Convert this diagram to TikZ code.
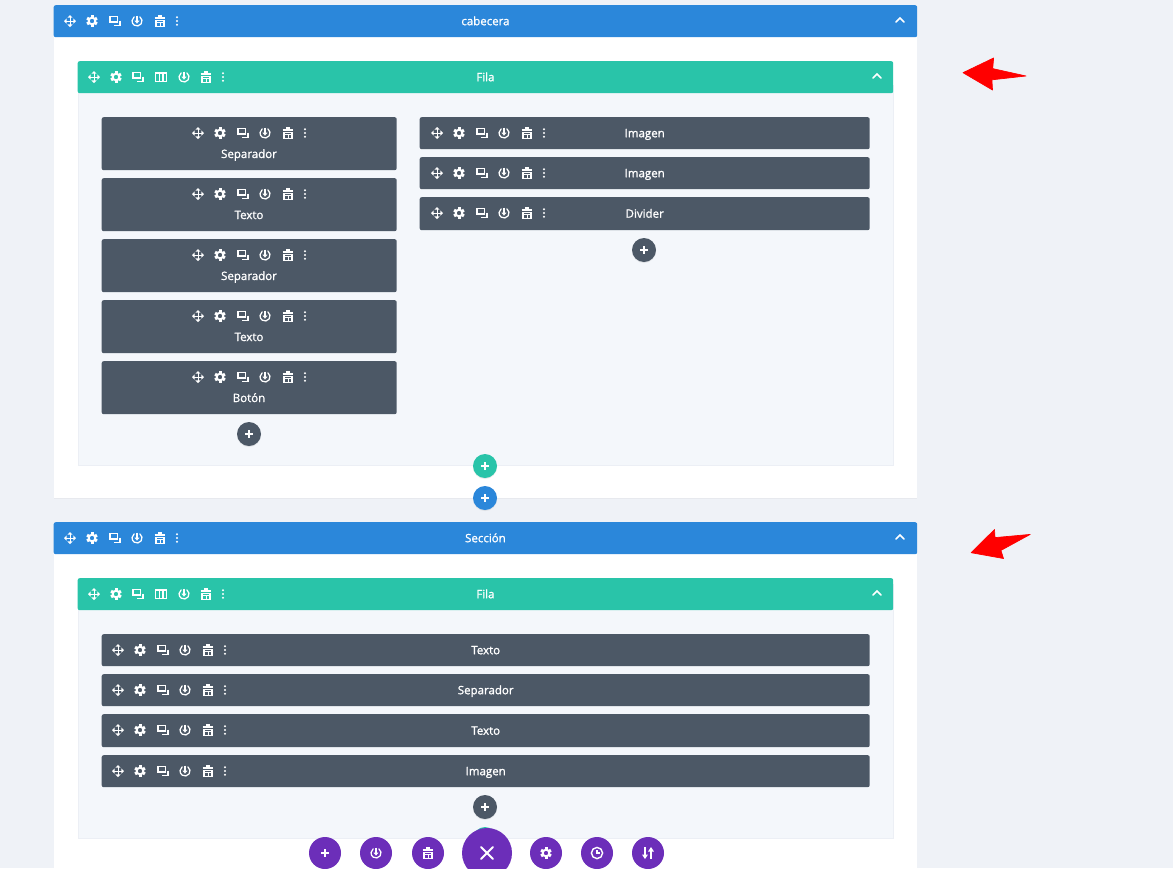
\documentclass[tikz,border=0pt]{standalone}
\usepackage{fontspec}
\usetikzlibrary{shadows}
\newfontfamily\labelfont[FakeBold=1.2]{Open Sans}
\definecolor{pagebg}{HTML}{EFF2F7}
\definecolor{rowbg}{HTML}{F4F7FB}
\definecolor{secblue}{HTML}{2B87DA}
\definecolor{rowgreen}{HTML}{29C4A9}
\definecolor{moddark}{HTML}{4C5866}
\definecolor{btnpurple}{HTML}{6C2EB9}
\definecolor{edgegray}{HTML}{ECEFF5}
\tikzset{
  bar/.style={shape=rectangle, anchor=north west, inner sep=0pt, rounded corners=2pt, text=white,
    text height=9.5pt, text depth=1.5pt, font=\labelfont\fontsize{11.5}{13}\selectfont},
  secbar/.style={bar, fill=secblue, minimum width=863.5pt, minimum height=32pt},
  rowbar/.style={bar, fill=rowgreen, minimum width=815.5pt, minimum height=32pt},
  modbar/.style={bar, fill=moddark, minimum height=32pt},
  tallbar/.style={modbar, minimum width=295pt, minimum height=53pt},
  panel/.style={shape=rectangle, anchor=north west, inner sep=0pt, fill=white,
    drop shadow={shadow xshift=0pt, shadow yshift=-1pt, opacity=.07}},
  rowbody/.style={shape=rectangle, anchor=north west, inner sep=0pt, fill=rowbg, draw=edgegray, line width=.5pt},
  modlabel/.style={text=white, inner sep=0pt, text height=9.5pt, text depth=1.5pt, font=\labelfont\fontsize{11.5}{13}\selectfont},
  addbtn/.style={shape=circle, inner sep=0pt, minimum size=24pt,
    drop shadow={shadow xshift=0pt, shadow yshift=-1pt, opacity=.15}},
  toolbtn/.style={shape=circle, inner sep=0pt, minimum size=32pt, fill=btnpurple},
  icon/.style={white, line width=1.25pt, line cap=round},
  arrowmark/.style={fill=red, draw=red, line width=.7pt, line join=round},
  iconmove/.pic={
    \draw[icon, line width=1pt] (-4.5,0) -- (4.5,0) (0,-4.5) -- (0,4.5);
    \fill[white] (-6,0) -- (-3.4,-2.6) -- (-3.4,2.6) -- cycle (6,0) -- (3.4,-2.6) -- (3.4,2.6) -- cycle
      (0,-6) -- (-2.6,-3.4) -- (2.6,-3.4) -- cycle (0,6) -- (-2.6,3.4) -- (2.6,3.4) -- cycle;},
  icongear/.pic={
    \foreach \a in {0,60,...,300} \fill[white, rotate=\a] (-1.5,-5.7) rectangle (1.5,-3.4);
    \draw[white, line width=1.9pt] (0,0) circle (3.3pt);},
  iconcopy/.pic={
    \draw[icon, line width=1.5pt, line cap=butt] (-5,-4.5) rectangle (2.5,.8);
    \draw[icon, line width=1.5pt, line cap=butt] (5.2,-.5) -- (5.2,4.3) -- (-1,4.3);},
  iconpower/.pic={
    \draw[icon] (2.9,-4.1) arc[start angle=55, end angle=-235, radius=5pt];
    \draw[icon, line width=1.4pt, line cap=butt] (0,-5.4) -- (0,1);
    \fill[white] (-2.6,-.4) -- (2.6,-.4) -- (0,2.6) -- cycle;},
  icontrash/.pic={
    \draw[icon, line width=1.2pt, line cap=butt] (-5.4,-3) -- (5.4,-3) (-2,-5) -- (2,-5);
    \draw[icon, line width=1.1pt, line cap=butt] (-4,-.8) rectangle (4,5.2);
    \draw[icon, line width=.9pt, line cap=butt] (-4,1.8) -- (4,1.8) (0,1.8) -- (0,5.2);},
  icondots/.pic={
    \foreach \d in {-3.7,0,3.7} \fill[white] (0,\d) circle (1.15pt);},
  iconcols/.pic={
    \draw[icon, line width=1.4pt, line cap=butt] (-5.4,-4.2) rectangle (5.4,4.2);
    \draw[icon, line width=1.4pt, line cap=butt] (-1.8,-4.2) -- (-1.8,4.2) (1.8,-4.2) -- (1.8,4.2);},
  iconchev/.pic={
    \draw[icon, line width=1.6pt] (-4,2) -- (0,-2) -- (4,2);},
  iconplus/.pic={
    \draw[icon, line width=1.6pt, line cap=butt] (-4,0) -- (4,0) (0,-4) -- (0,4);},
  iconcross/.pic={
    \draw[icon, line width=1.8pt] (-6,-6) -- (6,6) (-6,6) -- (6,-6);},
  iconclock/.pic={
    \draw[icon, line width=1.4pt] (0,0) circle (5.6pt);
    \draw[icon, line width=1.2pt, line cap=butt] (0,-3) -- (0,0) -- (3,0);},
  iconsort/.pic={
    \draw[icon, line width=1.6pt, line cap=butt] (-3,-6) -- (-3,2) (3,6) -- (3,-2);
    \fill[white] (-6,1.5) -- (0,1.5) -- (-3,6) -- cycle (0,-1.5) -- (6,-1.5) -- (3,-6) -- cycle;},
}
\newcommand\toolicons[2]{%
  \begin{scope}[shift={(#1,#2)}]
    \pic at (0,0) {iconmove}; \pic at (22,0) {icongear}; \pic at (45,0) {iconcopy};
    \pic at (67,0) {iconpower}; \pic at (90,0) {icontrash}; \pic at (107,0) {icondots};
  \end{scope}}
\newcommand\rowicons[1]{%
  \begin{scope}[shift={(94,#1)}]
    \pic at (0,0) {iconmove}; \pic at (22,0) {icongear}; \pic at (44,0) {iconcopy}; \pic at (67,0) {iconcols};
    \pic at (90,0) {iconpower}; \pic at (112,0) {icontrash}; \pic at (129,0) {icondots};
  \end{scope}}
\begin{document}
\begin{tikzpicture}[x=1pt, y=-1pt]
  \clip (0,0) rectangle (1173,868);
  \fill[pagebg] (0,0) rectangle (1173,868);
  \node[panel, minimum width=863.5pt, minimum height=493pt] (panelA) at (53.5,5) {};
  \node[panel, minimum width=863.5pt, minimum height=360pt] (panelB) at (53.5,522) {};
  \node[secbar] (cabecera) at (53.5,5) {cabecera};
  \node[secbar] (seccion) at (53.5,522) {Sección};
  \node[rowbody, minimum width=815.5pt, minimum height=380pt] (bodyA) at (77.5,85) {};
  \node[rowbody, minimum width=815.5pt, minimum height=254pt] (bodyB) at (77.5,584) {};
  \node[rowbar] (filaA) at (77.5,61) {Fila};
  \node[rowbar] (filaB) at (77.5,578) {Fila};
  \toolicons{70}{21}
  \toolicons{70}{538}
  \rowicons{77}
  \rowicons{594}
  \foreach \x/\y in {900/20,877/76,900/537,877/593} \pic at (\x,\y) {iconchev};
  \foreach \y/\txt/\nm in {117/Separador/sepA,178/Texto/texA,239/Separador/sepB,300/Texto/texB,361/Botón/bot} {
    \node[tallbar] (\nm) at (101.5,\y) {};
    \node[modlabel] (\nm label) at (249,\y+37) {\txt};
    \toolicons{198}{\y+16}
  }
  \foreach \y/\hgt/\txt/\nm in {117/32/Imagen/imgA,157/32/Imagen/imgB,197/33/Divider/div} {
    \node[modbar, minimum width=450pt, minimum height=\hgt pt] (\nm) at (419.5,\y) {\txt};
    \toolicons{437}{\y+16}
  }
  \foreach \y/\hgt/\txt/\nm in {634/32/Texto/fullA,674/32/Separador/fullB,714/33/Texto/fullC,755/32/Imagen/fullD} {
    \node[modbar, minimum width=768pt, minimum height=\hgt pt] (\nm) at (101.5,\y) {\txt};
    \toolicons{118}{\y+16}
  }
  \foreach \x/\y/\col/\nm in {249/434/moddark/addA,644/250/moddark/addB,485/466/rowgreen/addC,485/498/secblue/addD,485/807/moddark/addE,485/839/rowgreen/addF} {
    \node[addbtn, fill=\col] (\nm) at (\x,\y) {};
    \pic at (\nm) {iconplus};
  }
  \node[toolbtn] (btnadd) at (325,853) {};
  \node[toolbtn] (btnpower) at (376,853) {};
  \node[toolbtn] (btntrash) at (428,853) {};
  \node[toolbtn, minimum size=50pt] (btnclose) at (487,853) {};
  \node[toolbtn] (btngear) at (546,853) {};
  \node[toolbtn] (btnclock) at (597,853) {};
  \node[toolbtn] (btnsort) at (648,853) {};
  \pic at (btnadd) {iconplus};
  \pic at (btnpower) {iconpower};
  \pic at (btntrash) {icontrash};
  \pic at (btnclose) {iconcross};
  \pic at (btngear) {icongear};
  \pic at (btnclock) {iconclock};
  \pic at (btnsort) {iconsort};
  \filldraw[arrowmark] (963,72.7) -- (993.6,58) -- (992.7,68.6) -- (1026,76) -- (991.9,79.8) -- (992.5,90) -- cycle;
  \filldraw[arrowmark] (971.2,552.7) -- (994.5,529.5) -- (995,537.6) -- (1030.2,534.4) -- (1000.9,550.4) -- (1003.5,558.5) -- cycle;
\end{tikzpicture}
\end{document}
